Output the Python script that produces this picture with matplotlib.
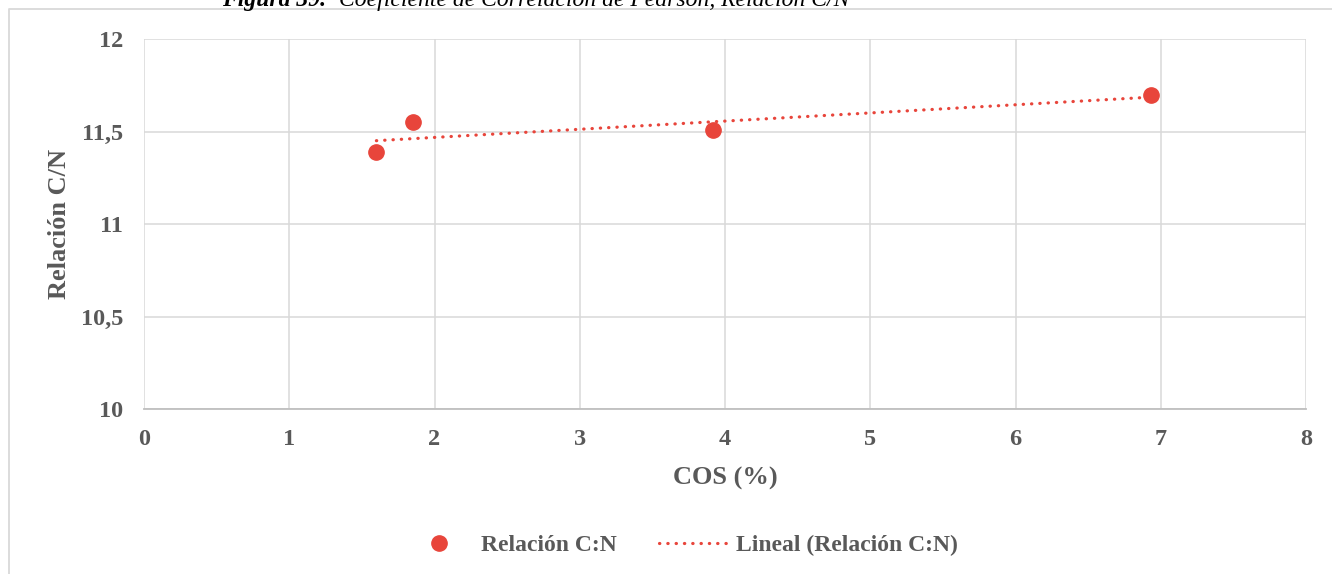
import numpy as np
import matplotlib
matplotlib.use("Agg")
import matplotlib.pyplot as plt
from matplotlib.lines import Line2D
from matplotlib.ticker import FuncFormatter

# COS (%) against C/N ratio
cos_pct = [1.60, 1.85, 3.92, 6.93]
ratio_cn = [11.39, 11.55, 11.51, 11.70]

x_ticks = [0, 1, 2, 3, 4, 5, 6, 7, 8]
y_ticks = [10, 10.5, 11, 11.5, 12]

series_label = "Relación C:N"
trend_label = "Lineal (Relación C:N)"
x_title = "COS (%)"
y_title = "Relación C/N"

RED = "#E8453B"
TEXT = "#595959"
GRID = "#D9D9D9"
FONT = "Liberation Serif"

W, H = 1332, 574
fig = plt.figure(figsize=(W / 100, H / 100), dpi=100)
fig.patch.set_facecolor("white")

def px(x, y):
    return x / W, 1 - y / H

# chart-area border (left and top edges)
fig.add_artist(Line2D([px(9, 0)[0], px(9, 0)[0], 1.0],
                      [0.0, px(0, 9)[1], px(0, 9)[1]],
                      transform=fig.transFigure, color=GRID, lw=1.3))

# caption above the chart, partly cut by the top edge
cap_y = px(0, 6)[1]
fig.text(px(222, 0)[0], cap_y, "Figura 39.", family=FONT, fontsize=17,
         fontweight="bold", fontstyle="italic", color="black", va="baseline")
fig.text(px(339, 0)[0], cap_y, "Coeficiente de Correlación de Pearson, Relación C/N",
         family=FONT, fontsize=17, fontstyle="italic", color="black", va="baseline")

left, right = 144 / W, 1306 / W
top, bottom = 1 - 39 / H, 1 - 409 / H
ax = fig.add_axes([left, bottom, right - left, top - bottom])

ax.set_xlim(0, 8)
ax.set_ylim(10, 12)
ax.set_xticks(x_ticks)
ax.set_yticks(y_ticks)

fmt = FuncFormatter(lambda v, p: (f"{v:g}").replace(".", ","))
ax.xaxis.set_major_formatter(fmt)
ax.yaxis.set_major_formatter(fmt)

ax.grid(True, color=GRID, lw=1.1, zorder=0)
ax.set_axisbelow(True)
for side in ("top", "right", "left"):
    ax.spines[side].set_visible(False)
ax.spines["bottom"].set_color("#BFBFBF")
ax.spines["bottom"].set_linewidth(1.3)

ax.tick_params(axis="both", length=0, labelsize=17.5, labelcolor=TEXT)
ax.tick_params(axis="y", pad=15)
ax.tick_params(axis="x", pad=14.5)
for lab in ax.get_xticklabels() + ax.get_yticklabels():
    lab.set_fontfamily(FONT)
    lab.set_fontweight("bold")

# data points
ax.plot(cos_pct, ratio_cn, "o", ms=11, color=RED, mec=RED, zorder=3,
        label=series_label, clip_on=False)

# least-squares trend line across the data range
slope, intercept = np.polyfit(cos_pct, ratio_cn, 1)
xf = np.array([min(cos_pct), max(cos_pct)])
ax.plot(xf, slope * xf + intercept, color=RED, lw=2.3,
        linestyle=(0, (0.1, 2.5)), dash_capstyle="round", zorder=2,
        label=trend_label)

ax.set_xlabel(x_title, family=FONT, fontsize=19, fontweight="bold",
              color=TEXT, labelpad=12)
ax.set_ylabel(y_title, family=FONT, fontsize=19, fontweight="bold",
              color=TEXT, labelpad=7)

leg = ax.legend(loc="center", bbox_to_anchor=(px(681, 0)[0], px(0, 545)[1]),
                bbox_transform=fig.transFigure, ncol=2, frameon=False,
                prop={"family": FONT, "weight": "bold", "size": 17},
                handlelength=2.95, columnspacing=1.8, handletextpad=0.3,
                borderpad=0, borderaxespad=0)
for txt in leg.get_texts():
    txt.set_color(TEXT)

fig.savefig("out.png", dpi=100)
